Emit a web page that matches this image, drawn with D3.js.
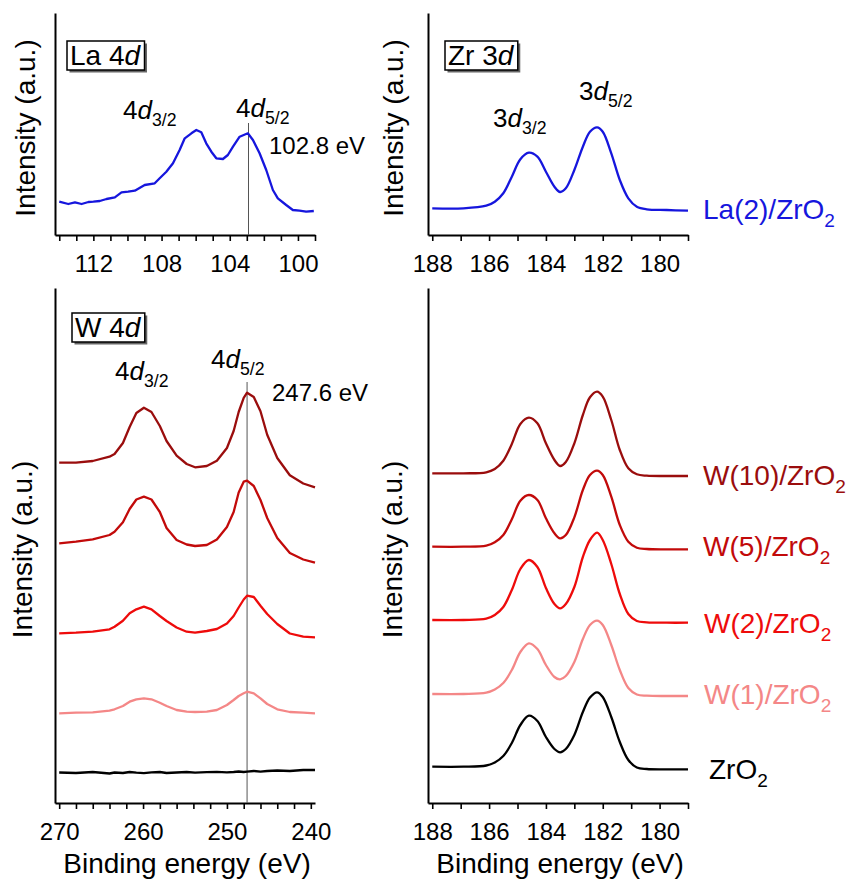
<!DOCTYPE html>
<html>
<head>
<meta charset="utf-8">
<script src="https://cdn.jsdelivr.net/npm/d3@7"></script>
<style>
  body { margin: 0; background: #fff; }
  svg text { font-family: "Liberation Sans", Arial, sans-serif; }
</style>
</head>
<body>
<svg id="chart" width="854" height="880"></svg>
<script>
// La 4d region (top left)
const laEnergy = [114.0, 113.47, 113.08, 112.69, 112.29, 112.0, 111.62, 111.23, 110.74, 110.35,
  109.96, 109.57, 108.99, 108.4, 108.11, 107.72, 107.33, 106.94, 106.64, 106.25,
  105.96, 105.67, 105.38, 105.08, 104.79, 104.4, 104.11, 103.81, 103.42, 102.94,
  102.64, 102.25, 101.86, 101.47, 101.18, 100.69, 100.3, 99.91, 99.52, 99.07];
const laIntensity = [33.3, 31, 32.7, 31, 33, 33.3, 34, 36, 37.7, 42.7,
  43.3, 44.3, 50, 51.7, 56.7, 63.3, 71.7, 85, 96.7, 101.7,
  105, 102.7, 91.7, 83.3, 76.7, 76, 80, 88.3, 98.3, 101.7,
  95, 81.7, 65, 45, 36.7, 30, 25, 24.3, 23.3, 24];

// Zr 3d region (right column)
const zrEnergy = [188, 186.9, 186.1, 185.8, 185.5, 185.2, 184.9, 184.6, 184.3, 184.0,
  183.7, 183.5, 183.3, 183.0, 182.7, 182.45, 182.2, 182.0, 181.7, 181.4,
  181.1, 180.8, 180.45, 179.75, 179.0];
const zrLa2 = [26.7, 26.7, 29.3, 33.3, 41.7, 58.3, 75.7, 82.3, 78.3, 63.3, 48.3, 43, 46.7,
  65, 88.3, 103.3, 107.7, 103.3, 81.7, 55, 36.7, 28.3, 25.7, 25, 24.3];
const zrW10 = [329.7, 329.7, 330.7, 334, 342.3, 359, 379, 385.3, 379.7, 359.7, 343, 337, 341,
  359.7, 388, 405.7, 411.3, 406.3, 383, 353, 334.7, 328.7, 327.3, 327, 327];
const zrW5 = [256.3, 256.3, 257.3, 260.7, 268, 283.7, 302.3, 308, 303, 284.7, 269.7, 264.7, 268,
  285.7, 313, 328, 332.3, 328, 306.3, 278, 261.3, 255.3, 254, 253.7, 253.7];
const zrW2 = [183, 183, 184.3, 188, 196, 213, 234, 243, 236, 215, 199, 194.7, 199,
  216, 246, 263, 270.3, 263, 239, 209, 189, 182, 180.7, 180.3, 180.3];
const zrW1 = [109, 109, 110.3, 113.5, 120, 133, 151, 159.7, 154, 138, 126, 123.7, 127,
  141, 164, 178, 182.3, 178, 158, 133, 115, 108.5, 107.3, 107, 107];
const zrZrO2 = [36.3, 36.3, 37.5, 40.5, 47, 60, 78, 87.3, 82, 66, 54, 50.7, 54,
  68, 91, 105.5, 110.7, 106, 86, 61, 43, 35.5, 34, 33.7, 33.7];

// W 4d region (bottom left)
const wEnergy = [270, 268, 266, 264, 263.4, 262.4, 261.6, 260.8, 259.9, 259, 258, 257.2, 256,
  254.8, 253.8, 252.4, 251.2, 250, 249.2, 248.6, 248, 247.6, 246.8, 246, 245.2, 244,
  242.5, 240.9, 239.5];
const wW10 = [340.3, 340.3, 342, 346.3, 349, 360, 376, 390, 395.3, 391, 377, 362, 347.3,
  339, 335.7, 337, 342.3, 355, 372, 391, 405.2, 410.3, 406, 391.7, 368.3, 345,
  327.7, 319.5, 315.7];
const wW5 = [259.7, 261.3, 263.7, 268, 271.3, 280.7, 294, 303.5, 306.3, 303.5, 291, 275, 263,
  258.5, 257, 258, 263.5, 276, 291, 310.5, 321.3, 322.3, 317, 303, 285, 265,
  250, 243.5, 240.3];
const wW2 = [169.7, 170.3, 171.3, 173.7, 176.3, 182.3, 189.7, 193.7, 196.3, 193.7, 187, 182, 175.5,
  171.3, 170.3, 172, 174, 179.5, 187, 195.5, 203.5, 207.3, 206, 197.3, 189, 179,
  169.5, 166.3, 165.7];
const wW1 = [89.7, 90.3, 90.7, 92.3, 93.7, 97, 101.3, 103.7, 104.7, 103.7, 100.3, 97, 93,
  91.3, 91, 91.3, 93, 98, 103, 107, 109.7, 111.3, 109.7, 104.7, 99, 93.7,
  91, 90.3, 89.7];
const wZrO2 = [30.5, 30, 31, 29.5, 30.5, 30, 31, 30.3, 29.8, 30.6, 31, 30, 30.5,
  31, 30.4, 30.8, 31.2, 30.7, 31, 31.5, 31, 31.3, 32, 31.4, 32, 32.5,
  32, 33, 33];

const sampleNames = ["W(10)/ZrO", "W(5)/ZrO", "W(2)/ZrO", "W(1)/ZrO", "ZrO"];
const sampleColors = ["#9a0d0d", "#c20a0a", "#ee0b0b", "#f48787", "#000000"];
const laColor = "#1616dd";

const laTicks = d3.range(99, 115);          // every 1 eV
const laLabels = [112, 108, 104, 100];
const zrTicks = d3.range(179, 189);         // every 1 eV
const zrLabels = [188, 186, 184, 182, 180];
const wTicks = d3.range(240, 271, 2);       // every 2 eV
const wLabels = [270, 260, 250, 240];

const laPeak = 102.9, laPeakText = "102.8 eV";
const wPeak = 247.6, wPeakText = "247.6 eV";

const svg = d3.select("#chart");

function richText(g, x, y, parts, size, color) {
  const t = g.append("text").attr("x", x).attr("y", y)
    .attr("font-size", size).attr("fill", color || "#000");
  parts.forEach(p => {
    const s = t.append("tspan").text(p.t);
    if (p.i) s.attr("font-style", "italic");
    if (p.sub) s.attr("font-size", size * 0.68).attr("dy", size * 0.28);
  });
  return t;
}

function labelBox(x, y, parts) {
  const g = svg.append("g");
  const t = richText(g, x, y, parts, 28);
  const b = t.node().getBBox();
  const pad = 3;
  g.insert("rect", "text")
    .attr("x", b.x - pad + 2.5).attr("y", b.y + 1 + 2.5)
    .attr("width", b.width + pad * 2).attr("height", b.height - 2)
    .attr("fill", "#666");
  g.insert("rect", "text")
    .attr("x", b.x - pad).attr("y", b.y + 1)
    .attr("width", b.width + pad * 2).attr("height", b.height - 2)
    .attr("fill", "#fff").attr("stroke", "#000").attr("stroke-width", 1.5);
}

function panel(cfg) {
  const x = d3.scaleLinear().domain(cfg.xDomain).range([cfg.left, cfg.right]);
  const y = d3.scaleLinear().domain([0, cfg.yMax]).range([cfg.bottom, cfg.top]);

  const xAxis = svg.append("g")
    .attr("transform", `translate(0,${cfg.bottom})`)
    .call(d3.axisBottom(x).tickValues(cfg.ticks)
      .tickFormat(d => cfg.labels.includes(d) ? d : "")
      .tickSize(6).tickSizeOuter(0).tickPadding(14));
  xAxis.select(".domain").attr("stroke-width", 2);
  xAxis.selectAll(".tick line").attr("stroke-width", 1.6);
  xAxis.selectAll(".tick text").attr("font-size", 24).attr("fill", "#000")
    .attr("font-family", '"Liberation Sans", Arial, sans-serif');

  const yAxis = svg.append("g")
    .attr("transform", `translate(${cfg.left},0)`)
    .call(d3.axisLeft(y).tickValues([]).tickSizeOuter(0));
  yAxis.select(".domain").attr("stroke-width", 2);

  svg.append("text")
    .attr("transform", `translate(${cfg.yTitleX},${(cfg.top + cfg.bottom) / 2 + 4}) rotate(-90)`)
    .attr("text-anchor", "middle").attr("font-size", 28)
    .text("Intensity (a.u.)");

  if (cfg.xTitle) {
    svg.append("text")
      .attr("x", (cfg.left + cfg.right) / 2 + 2).attr("y", 873)
      .attr("text-anchor", "middle").attr("font-size", 28)
      .text("Binding energy (eV)");
  }

  if (cfg.marker) {
    svg.append("line")
      .attr("x1", x(cfg.marker)).attr("x2", x(cfg.marker))
      .attr("y1", cfg.markerTop).attr("y2", cfg.bottom)
      .attr("stroke", "#555").attr("stroke-width", 1);
  }

  const line = d3.line()
    .x((d, i) => x(cfg.energy[i]))
    .y(d => y(d))
    .curve(cfg.smooth ? d3.curveCatmullRom.alpha(0.5) : d3.curveLinear);

  cfg.series.forEach(s => {
    svg.append("path")
      .datum(s.values)
      .attr("fill", "none")
      .attr("stroke", s.color)
      .attr("stroke-width", 2.3)
      .attr("stroke-linejoin", "round")
      .attr("d", line);
    if (s.name) {
      richText(svg, s.lx, s.ly, [{ t: s.name }, { t: "2", sub: true }], 28, s.color);
    }
  });
}

// top left: La 4d
panel({
  xDomain: [114.25, 99.0], left: 55, right: 315, top: 13, bottom: 235, yMax: 222,
  ticks: laTicks, labels: laLabels, yTitleX: 35, energy: laEnergy,
  marker: laPeak, markerTop: 123,
  series: [{ values: laIntensity, color: laColor }]
});

// top right: Zr 3d of La(2)/ZrO2
panel({
  xDomain: [188.15, 179.0], left: 428, right: 688, top: 13, bottom: 235, yMax: 222,
  ticks: zrTicks, labels: zrLabels, yTitleX: 403, energy: zrEnergy, smooth: true,
  series: [{ values: zrLa2, color: laColor, name: "La(2)/ZrO", lx: 703, ly: 219 }]
});

// bottom left: W 4d
panel({
  xDomain: [270.5, 239.5], left: 55, right: 315, top: 288, bottom: 803, yMax: 515,
  ticks: wTicks, labels: wLabels, yTitleX: 32, energy: wEnergy, xTitle: true,
  marker: wPeak, markerTop: 382,
  series: [wW10, wW5, wW2, wW1, wZrO2].map((v, i) => ({ values: v, color: sampleColors[i] }))
});

// bottom right: Zr 3d of W samples
const zrLabelY = [485, 556, 633, 704, 779];
const zrLabelX = [703, 703, 704, 704, 709];
panel({
  xDomain: [188.15, 179.0], left: 428, right: 688, top: 288, bottom: 803, yMax: 515,
  ticks: zrTicks, labels: zrLabels, yTitleX: 402, energy: zrEnergy, smooth: true, xTitle: true,
  series: [zrW10, zrW5, zrW2, zrW1, zrZrO2].map((v, i) => ({
    values: v, color: sampleColors[i], name: sampleNames[i], lx: zrLabelX[i], ly: zrLabelY[i]
  }))
});

// panel tags
labelBox(70, 65, [{ t: "La 4" }, { t: "d", i: true }]);
labelBox(448, 65, [{ t: "Zr 3" }, { t: "d", i: true }]);
labelBox(75, 337, [{ t: "W 4" }, { t: "d", i: true }]);

// peak annotations
richText(svg, 123, 119, [{ t: "4" }, { t: "d", i: true }, { t: "3/2", sub: true }], 26);
richText(svg, 236, 117, [{ t: "4" }, { t: "d", i: true }, { t: "5/2", sub: true }], 26);
svg.append("text").attr("x", 269).attr("y", 154).attr("font-size", 24).text(laPeakText);

richText(svg, 493, 127, [{ t: "3" }, { t: "d", i: true }, { t: "3/2", sub: true }], 26);
richText(svg, 579, 100, [{ t: "3" }, { t: "d", i: true }, { t: "5/2", sub: true }], 26);

richText(svg, 115, 380, [{ t: "4" }, { t: "d", i: true }, { t: "3/2", sub: true }], 26);
richText(svg, 211, 368, [{ t: "4" }, { t: "d", i: true }, { t: "5/2", sub: true }], 26);
svg.append("text").attr("x", 272).attr("y", 401).attr("font-size", 24).text(wPeakText);
</script>
</body>
</html>
